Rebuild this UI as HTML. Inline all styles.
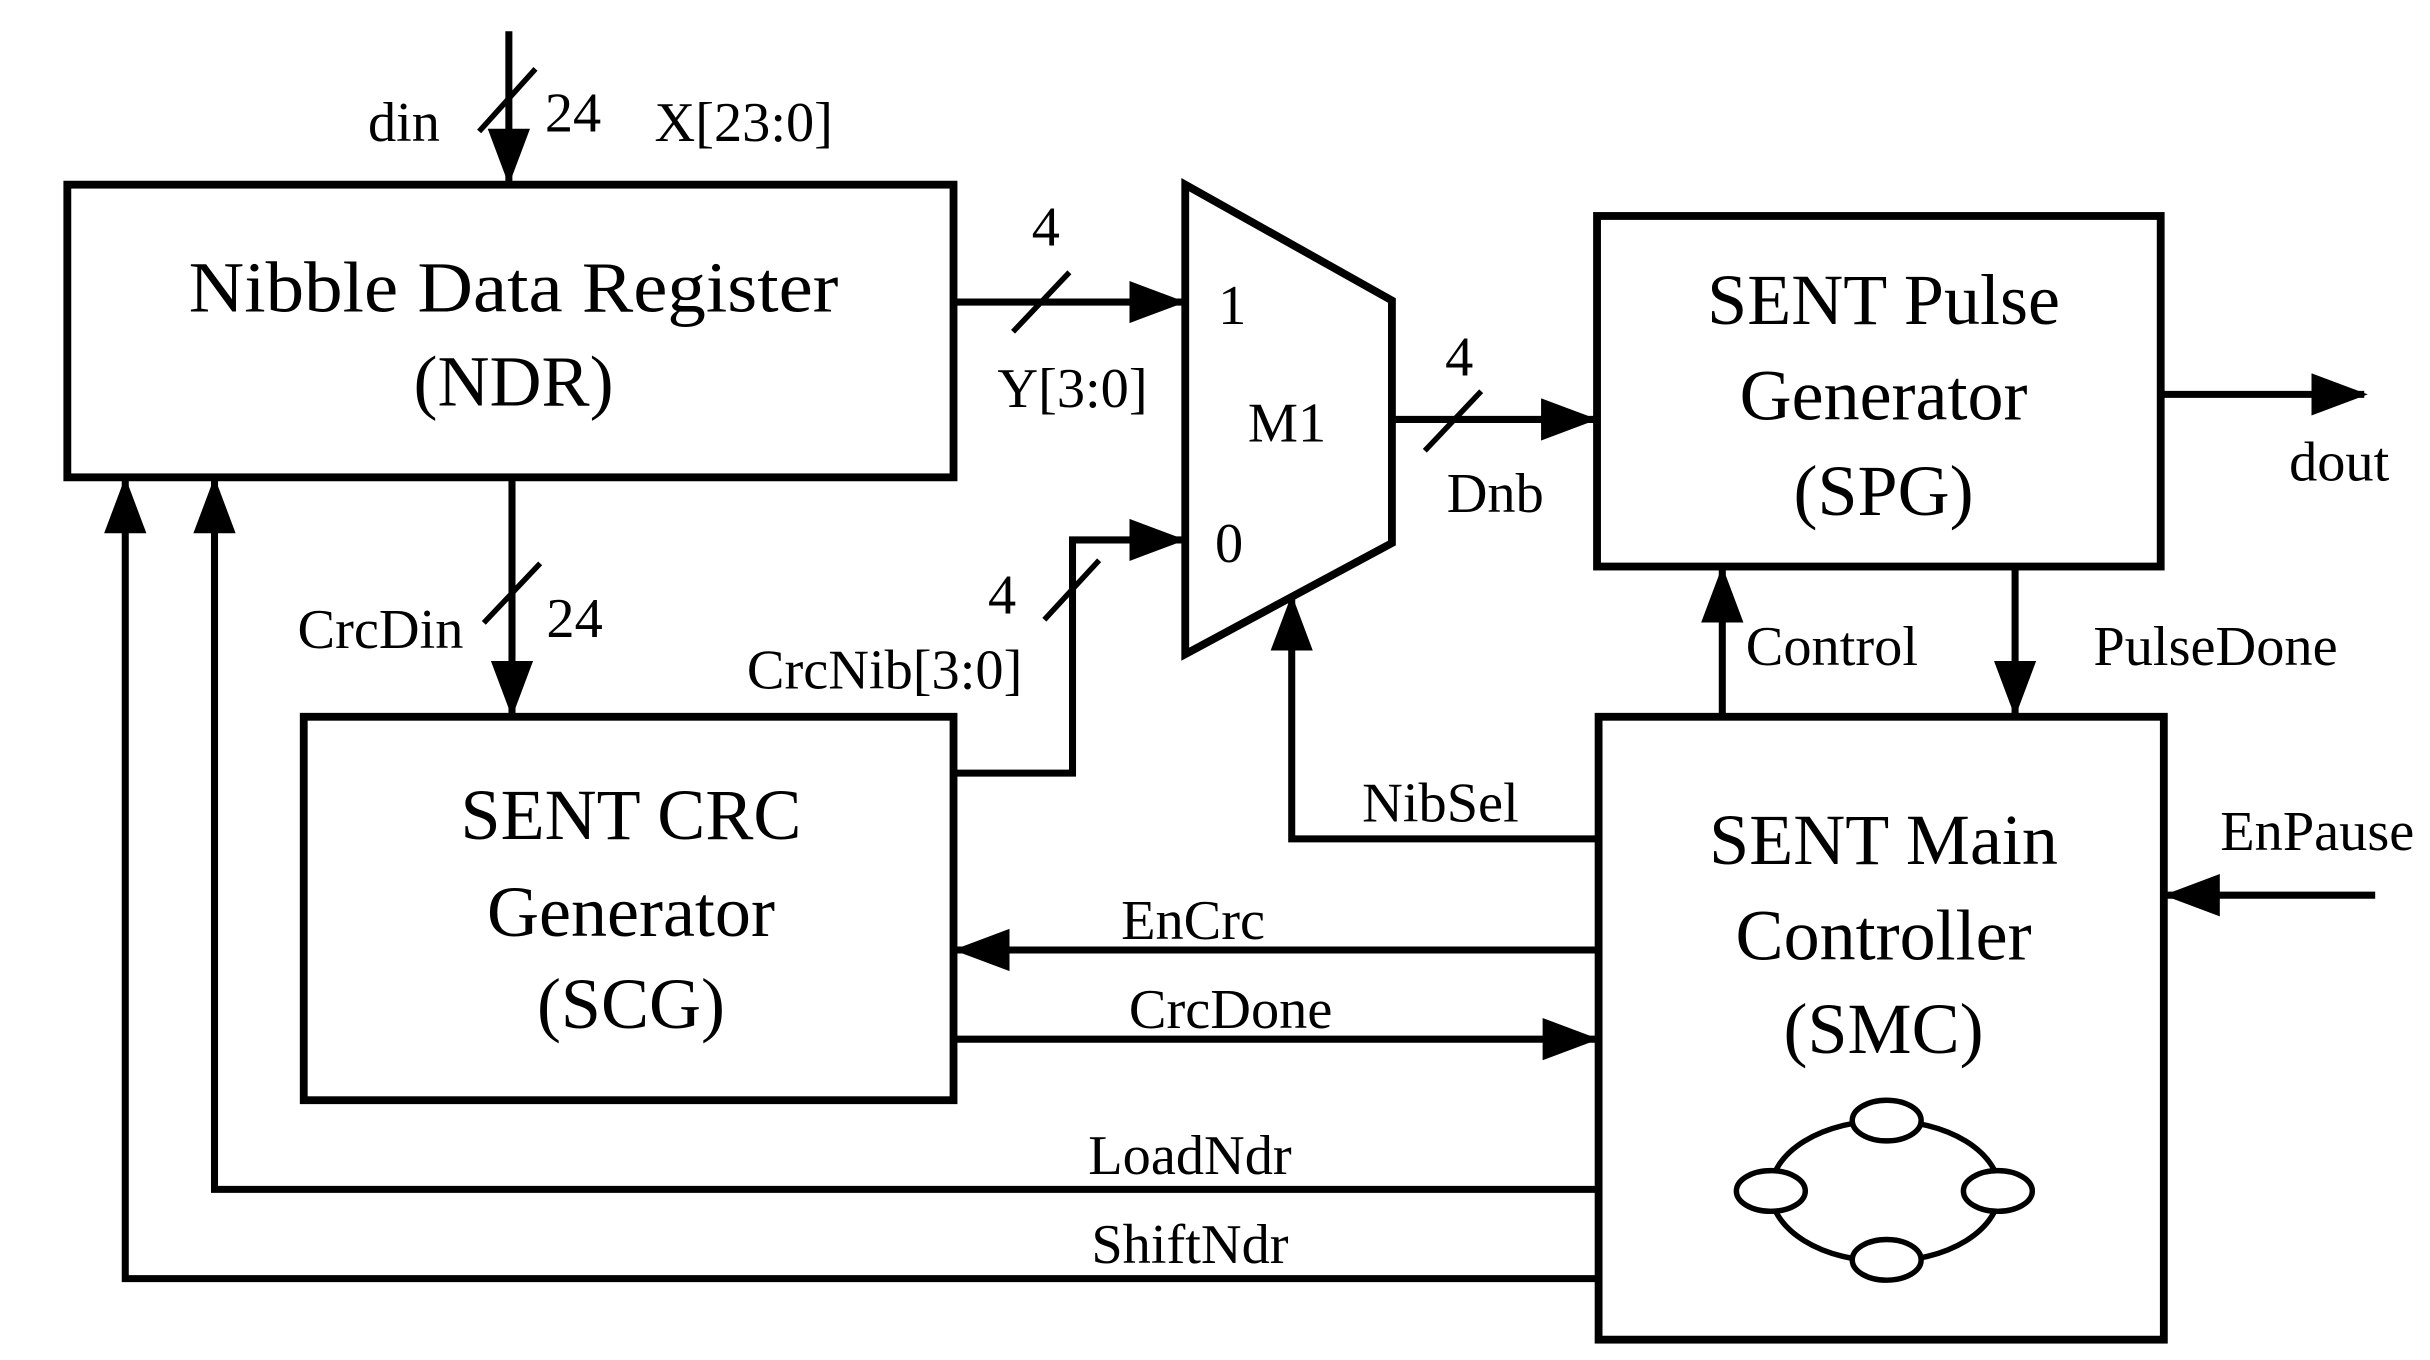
<!DOCTYPE html>
<html><head><meta charset="utf-8"><style>
html,body{margin:0;padding:0;background:#fff;}
svg{display:block;}
text{font-family:"Liberation Serif",serif;fill:#000;}
.t{font-size:46px;text-anchor:middle;}
.l{font-size:36px;text-anchor:middle;}
</style></head><body>
<svg width="2430" height="1360" viewBox="0 0 1552 869" preserveAspectRatio="none" xmlns="http://www.w3.org/2000/svg">
<defs>
<marker id="a" markerWidth="8" markerHeight="6" refX="7.5" refY="3" orient="auto" markerUnits="strokeWidth">
<path d="M0,0 L8,3 L0,6 Z" fill="#000"/>
</marker>
</defs>
<g fill="none" stroke="#000" stroke-width="5">
<rect x="43" y="118" width="566" height="187"/>
<rect x="1020" y="138" width="360" height="224"/>
<rect x="194" y="458" width="415" height="245"/>
<rect x="1021" y="458" width="361" height="398"/>
<path d="M757,118 L889,192 L889,347 L757,418 Z"/>
</g>
<g fill="none" stroke="#000" stroke-width="4.5">
<line x1="325" y1="20" x2="325" y2="116" marker-end="url(#a)"/>
<line x1="609" y1="193" x2="755" y2="193" marker-end="url(#a)"/>
<line x1="889" y1="268" x2="1018" y2="268" marker-end="url(#a)"/>
<line x1="1380" y1="252" x2="1510" y2="252" marker-end="url(#a)"/>
<line x1="327" y1="305" x2="327" y2="456" marker-end="url(#a)"/>
<polyline points="609,494 685,494 685,345 755,345" marker-end="url(#a)"/>
<line x1="1100" y1="458" x2="1100" y2="364" marker-end="url(#a)"/>
<line x1="1287" y1="362" x2="1287" y2="456" marker-end="url(#a)"/>
<line x1="1517" y1="572" x2="1384" y2="572" marker-end="url(#a)"/>
<polyline points="1021,536 825,536 825,382" marker-end="url(#a)"/>
<line x1="1021" y1="607" x2="611" y2="607" marker-end="url(#a)"/>
<line x1="609" y1="664" x2="1019" y2="664" marker-end="url(#a)"/>
<polyline points="1021,760 137,760 137,307" marker-end="url(#a)"/>
<polyline points="1021,817 80,817 80,307" marker-end="url(#a)"/>
</g>
<g stroke="#000" stroke-width="3.5">
<line x1="306" y1="84" x2="342" y2="44"/>
<line x1="647" y1="212" x2="683" y2="174"/>
<line x1="910" y1="288" x2="946" y2="250"/>
<line x1="309" y1="398" x2="345" y2="360"/>
<line x1="667" y1="396" x2="702" y2="358"/>
</g>
<g fill="#fff" stroke="#000" stroke-width="3.5">
<ellipse cx="1204" cy="761" rx="73" ry="45"/>
<ellipse cx="1205" cy="716" rx="22" ry="13"/>
<ellipse cx="1131" cy="761" rx="22" ry="13"/>
<ellipse cx="1276" cy="761" rx="22" ry="13"/>
<ellipse cx="1205" cy="805" rx="22" ry="13"/>
</g>
<text class="t" x="328" y="199" textLength="415" lengthAdjust="spacingAndGlyphs">Nibble Data Register</text>
<text class="t" x="328" y="259">(NDR)</text>
<text class="t" x="1203" y="207">SENT Pulse</text>
<text class="t" x="1203" y="268">Generator</text>
<text class="t" x="1203" y="329">(SPG)</text>
<text class="t" x="403" y="536">SENT CRC</text>
<text class="t" x="403" y="598">Generator</text>
<text class="t" x="403" y="657">(SCG)</text>
<text class="t" x="1203" y="552">SENT Main</text>
<text class="t" x="1203" y="613">Controller</text>
<text class="t" x="1203" y="673">(SMC)</text>
<text class="l" x="258" y="90">din</text>
<text class="l" x="366" y="84">24</text>
<text class="l" x="475" y="90">X[23:0]</text>
<text class="l" x="668" y="157">4</text>
<text class="l" x="685" y="260">Y[3:0]</text>
<text class="l" x="787" y="207">1</text>
<text class="l" x="822" y="282">M1</text>
<text class="l" x="785" y="359">0</text>
<text class="l" x="932" y="240">4</text>
<text class="l" x="955" y="327">Dnb</text>
<text class="l" x="1494" y="307">dout</text>
<text class="l" x="243" y="414">CrcDin</text>
<text class="l" x="367" y="407">24</text>
<text class="l" x="640" y="392">4</text>
<text class="l" x="565" y="440">CrcNib[3:0]</text>
<text class="l" x="1170" y="425">Control</text>
<text class="l" x="1415" y="425">PulseDone</text>
<text class="l" x="1480" y="543">EnPause</text>
<text class="l" x="920" y="525">NibSel</text>
<text class="l" x="762" y="600">EnCrc</text>
<text class="l" x="786" y="657">CrcDone</text>
<text class="l" x="760" y="750">LoadNdr</text>
<text class="l" x="760" y="807">ShiftNdr</text>
</svg>
</body></html>
